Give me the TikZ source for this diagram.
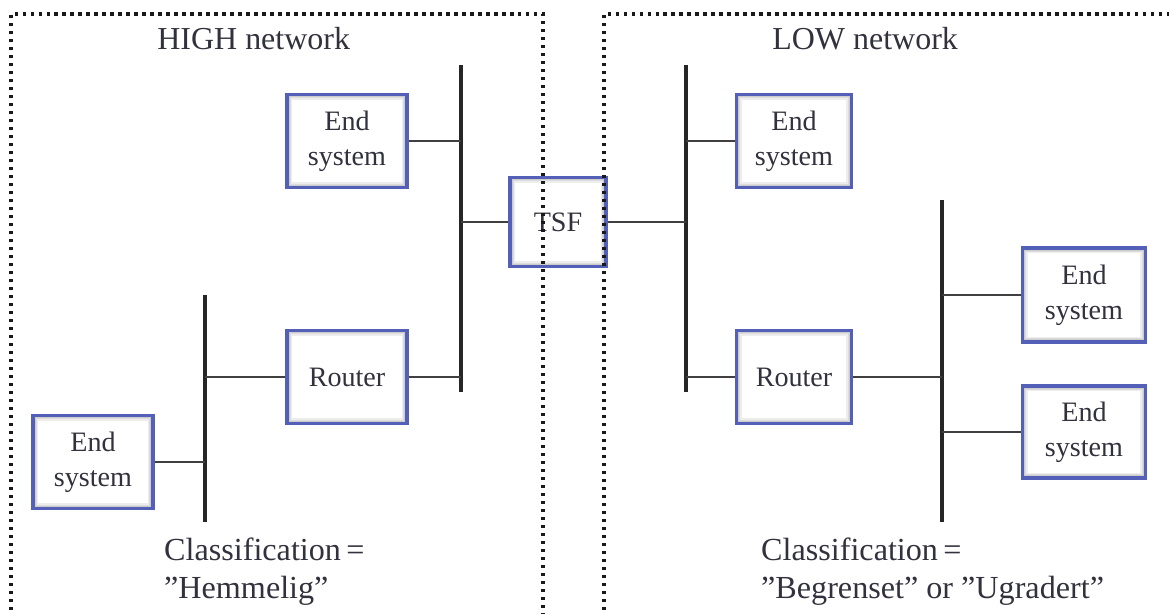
\documentclass[tikz,border=0pt]{standalone}
\usepackage{fontspec}
\setmainfont{Liberation Serif}
\definecolor{boxblue}{RGB}{84,96,184}
\definecolor{txt}{RGB}{50,50,62}

\begin{document}
\begin{tikzpicture}[x=0.02cm,y=-0.02cm,
    box/.style={draw=boxblue, line width=1.8pt, fill=white, text=txt,
      minimum width=2.4cm, minimum height=1.86cm, align=center,
      font=\fontsize{16}{19.8}\selectfont,
      path picture={
        \foreach \w in {1.5pt,3pt,4.5pt,6pt}
          \draw[black, opacity=0.07, line width=\w]
            (path picture bounding box.south west) rectangle
            (path picture bounding box.north east);}},
    bus/.style={line width=2.3pt, black!85},
    link/.style={line width=0.8pt, black!75},
    zone/.style={line width=1.9pt, dash pattern=on 1.9pt off 2.65pt, black!90},
    title/.style={text=txt, inner sep=0pt, anchor=base west, font=\fontsize{18.2}{21.6}\selectfont},
    note/.style={text=txt, align=left, anchor=west, font=\fontsize{18.3}{21.6}\selectfont}]
  \useasboundingbox (0,0) rectangle (1169,614);
  \clip (0,0) rectangle (1169,614);
  \node[title] (high) at (157,50) {HIGH network};
  \node[title] (low)  at (772,50) {LOW network};
  % buses
  \coordinate (hb1) at (461,65);  \coordinate (hb1end) at (461,392);
  \coordinate (hb2) at (205,295); \coordinate (hb2end) at (205,522);
  \coordinate (lb1) at (686,65);  \coordinate (lb1end) at (686,392);
  \coordinate (lb2) at (942,200); \coordinate (lb2end) at (942,522);
  \draw[bus] (hb1) -- (hb1end);
  \draw[bus] (hb2) -- (hb2end);
  \draw[bus] (lb1) -- (lb1end);
  \draw[bus] (lb2) -- (lb2end);
  % boxes
  \node[box] (he1) at (347,141) {End\\system};
  \node[box] (hr)  at (347,377) {Router};
  \node[box] (he2) at (93,462)  {End\\system};
  \node[box, minimum width=1.92cm, minimum height=1.78cm] (tsf) at (558,222) {TSF};
  \node[box, minimum width=2.3cm] (le1) at (794,141) {End\\system};
  \node[box, minimum width=2.3cm] (lr)  at (794,377) {Router};
  \node[box, minimum width=2.46cm, minimum height=1.88cm] (le2) at (1084,295) {End\\system};
  \node[box, minimum width=2.46cm, minimum height=1.84cm] (le3) at (1084,432) {End\\system};
  % links
  \draw[link] (he1) -- (he1 -| hb1);
  \draw[link] (hr) -- (hr -| hb1);
  \draw[link] (hr) -- (hr -| hb2);
  \draw[link] (he2) -- (he2 -| hb2);
  \draw[link] (tsf) -- (tsf -| hb1);
  \draw[link] (tsf) -- (tsf -| lb1);
  \draw[link] (le1) -- (le1 -| lb1);
  \draw[link] (lr) -- (lr -| lb1);
  \draw[link] (lr) -- (lr -| lb2);
  \draw[link] (le2) -- (le2 -| lb2);
  \draw[link] (le3) -- (le3 -| lb2);
  % classification
  \node[note] (hcls) at (158,572) {Classification\,=\\”Hemmelig”};
  \node[note] (lcls) at (755,572) {Classification\,=\\”Begrenset” or ”Ugradert”};
  % network zones
  \draw[zone] (11,650) -- (11,14) -- (543,14) -- (543,650);
  \draw[zone] (604,650) -- (604,14) -- (1200,14);
\end{tikzpicture}
\end{document}
